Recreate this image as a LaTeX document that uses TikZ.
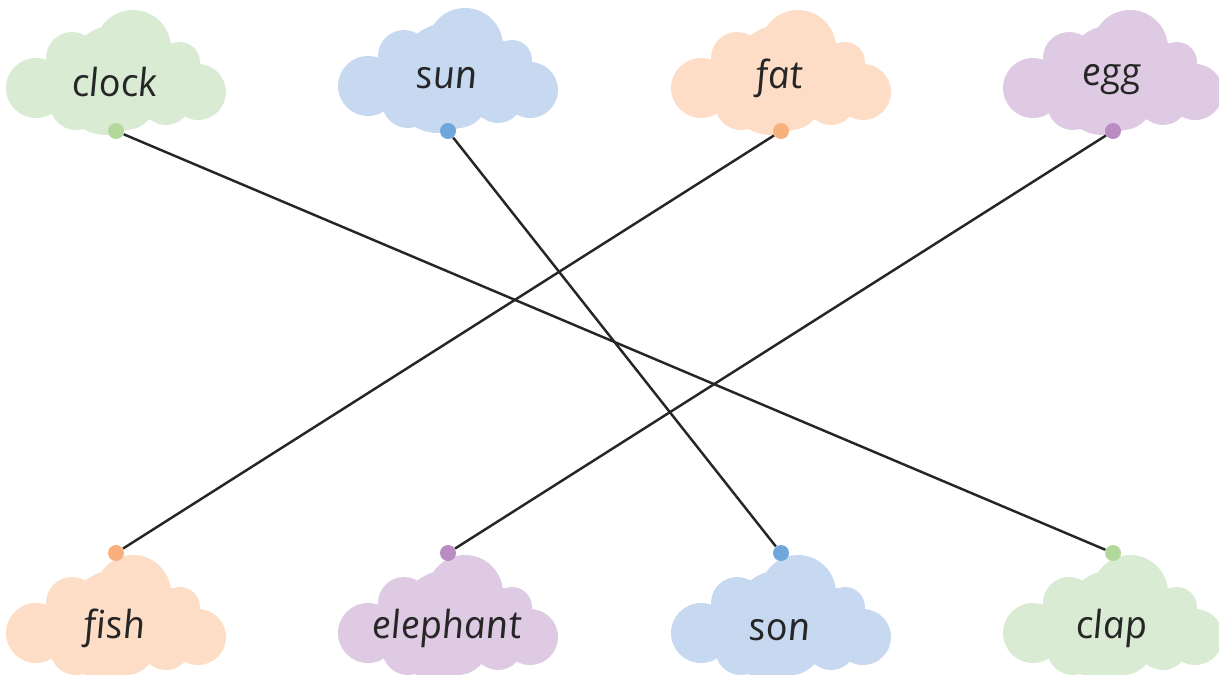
\documentclass[tikz,border=0pt]{standalone}
\usepackage{fontspec}
\setmainfont{Open Sans}
\newfontfamily\wordfont{Open Sans}[ItalicFeatures={FakeSlant=-0.12}]
\usetikzlibrary{positioning}

\definecolor{greencl}{HTML}{D9EBD3}
\definecolor{greendot}{HTML}{B2D89C}
\definecolor{bluecl}{HTML}{C6D9F0}
\definecolor{bluedot}{HTML}{6FA7DD}
\definecolor{orangecl}{HTML}{FDDDC6}
\definecolor{orangedot}{HTML}{F8B07C}
\definecolor{purplecl}{HTML}{DFCAE3}
\definecolor{purpledot}{HTML}{BB8CC4}

% cloud made of overlapping circles: colour, centre x, centre y
\newcommand{\cloud}[3]{%
  \foreach \dx/\dy/\r in {17/-22/38,-44/-12/26,64/-8/20,-80/18/30,82/22/28,
                          -40/34/26,10/30/30,50/30/25,0/5/50,-10/20/45,40/10/40}
    \fill[#1] (#2+\dx,#3+\dy) circle[radius=\r*0.02cm];}

\tikzset{word/.style={font=\wordfont\itshape\fontsize{22}{26}\selectfont,text=black!85},
  dot/.style={circle,inner sep=0pt,minimum size=0.32cm}}

\begin{document}
\begin{tikzpicture}[x=0.02cm,y=-0.02cm]
\useasboundingbox (0,0) rectangle (1219,674);

\cloud{greencl}{116}{70}
\cloud{bluecl}{448}{68}
\cloud{orangecl}{781}{70}
\cloud{purplecl}{1113}{70}
\cloud{orangecl}{116}{615}
\cloud{purplecl}{448}{615}
\cloud{bluecl}{781}{615}
\cloud{greencl}{1113}{615}

\path (116,82) node[word] (clock) {clock};
\path (448,78) node[word] (sun) {sun};
\path (781,78) node[word] (fat) {fat};
\path (1113,80) node[word] (egg) {egg};
\path (116,628) node[word] (fish) {fish};
\path (448,628) node[word] (elephant) {elephant};
\path (781,630) node[word] (son) {son};
\path (1113,628) node[word] (clap) {clap};

\path (116,131) node[dot,fill=greendot] (clockd) {};
\path (448,131) node[dot,fill=bluedot] (sund) {};
\path (781,131) node[dot,fill=orangedot] (fatd) {};
\path (1113,131) node[dot,fill=purpledot] (eggd) {};
\path (116,553) node[dot,fill=orangedot] (fishd) {};
\path (448,553) node[dot,fill=purpledot] (elephantd) {};
\path (781,553) node[dot,fill=bluedot] (sond) {};
\path (1113,553) node[dot,fill=greendot] (clapd) {};

\draw[line width=1.4pt,black!85] (clockd) -- (clapd);
\draw[line width=1.4pt,black!85] (sund) -- (sond);
\draw[line width=1.4pt,black!85] (fatd) -- (fishd);
\draw[line width=1.4pt,black!85] (eggd) -- (elephantd);
\end{tikzpicture}
\end{document}
